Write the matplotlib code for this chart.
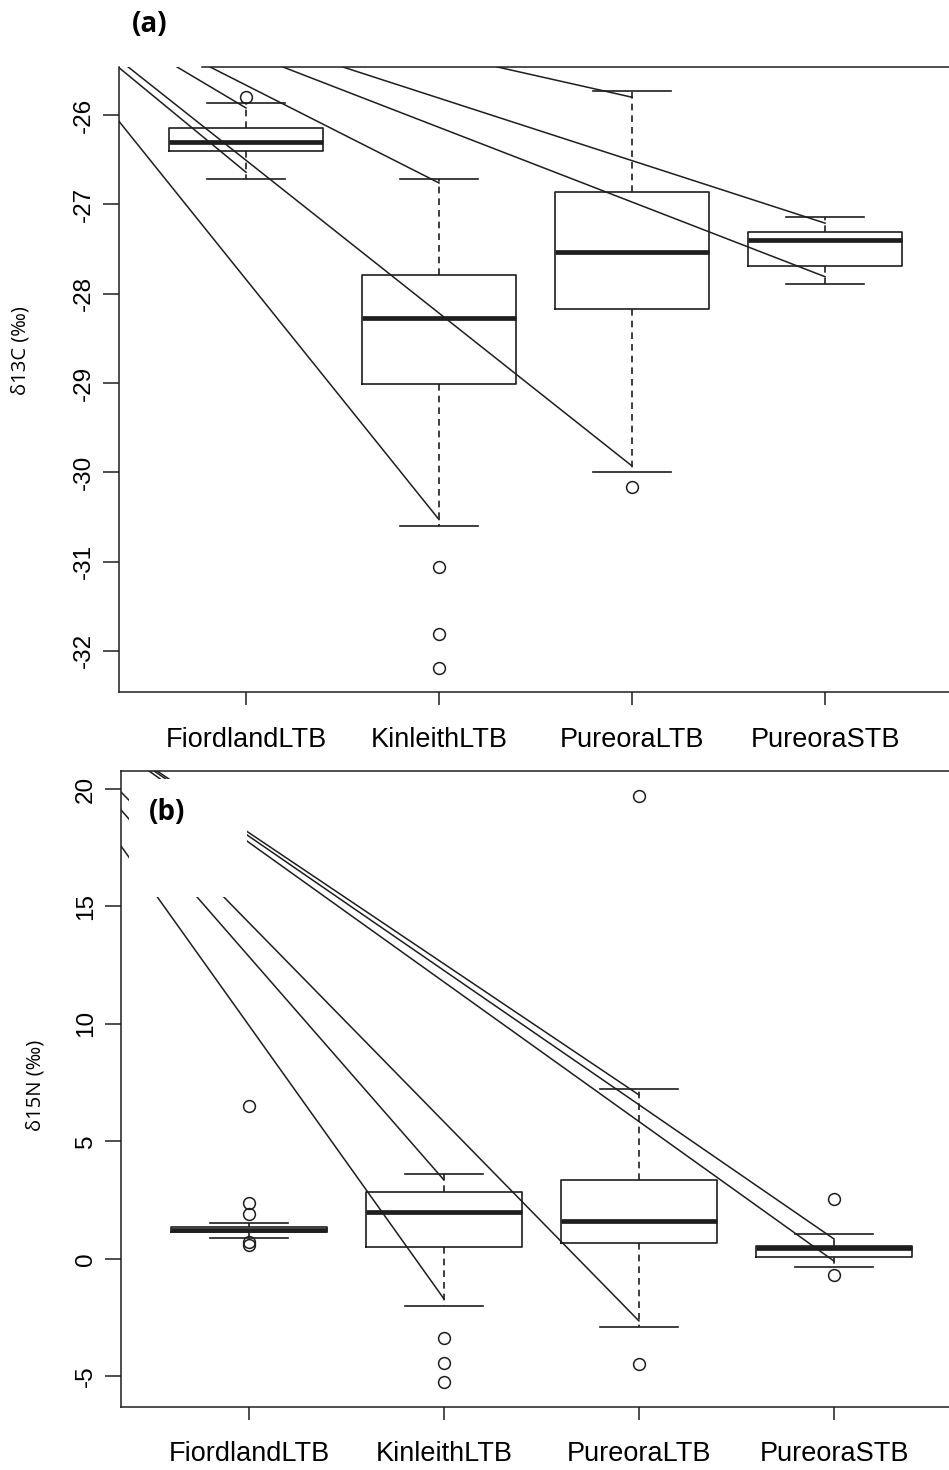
import numpy as np
import matplotlib
matplotlib.use('Agg')
import matplotlib.pyplot as plt
from matplotlib.patches import Rectangle

# sites on the x axis
sites = ['FiordlandLTB', 'KinleithLTB', 'PureoraLTB', 'PureoraSTB']

# (a) d13C box statistics
c_med = [-26.30, -28.27, -27.53, -27.40]
c_q1 = [-26.40, -29.01, -28.17, -27.69]
c_q3 = [-26.15, -27.79, -26.86, -27.31]
c_lo = [-26.71, -30.60, -30.00, -27.89]
c_hi = [-25.87, -26.71, -25.73, -27.14]
c_out = [[-25.80], [-31.06, -31.81, -32.19], [-30.17], []]
c_ticks = [-32, -31, -30, -29, -28, -27, -26]

# (a) leader lines: start and end points
c_x0 = [0.342, 0.337, 0.389, 0.642, 0.813, 1.19, 1.50, 2.30]
c_y0 = [-26.07, -25.46, -25.46, -25.46, -25.46, -25.46, -25.46, -25.46]
c_x1 = [2.0, 1.0, 3.0, 1.0, 2.0, 4.0, 4.0, 3.0]
c_y1 = [-30.53, -26.64, -29.93, -25.92, -26.76, -27.81, -27.21, -25.80]

# (b) d15N box statistics
n_med = [1.23, 2.00, 1.62, 0.47]
n_q1 = [1.15, 0.51, 0.68, 0.09]
n_q3 = [1.36, 2.85, 3.36, 0.55]
n_lo = [0.89, -2.00, -2.89, -0.34]
n_hi = [1.53, 3.62, 7.23, 1.06]
n_out = [[6.51, 2.38, 1.91, 0.72, 0.60], [-3.36, -4.43, -5.23],
         [19.70, -4.47], [2.55, -0.68]]
n_ticks = [-5, 0, 5, 10, 15, 20]

# (b) leader lines
n_x0 = [0.344, 0.344, 0.344, 0.528, 0.513, 0.487]
n_y0 = [17.57, 19.11, 19.87, 20.77, 20.77, 20.77]
n_x1 = [2.0, 2.0, 3.0, 3.0, 4.0, 4.0]
n_y1 = [-1.70, 3.36, -2.64, 6.98, 0.85, -0.09]

INK = '#1e1e1e'
TICKFONT = 'Liberation Sans'
LABFONT = ['Open Sans', 'DejaVu Sans']


def make_stats(med, q1, q3, lo, hi, out):
    stats = []
    for i in range(len(med)):
        stats.append(dict(med=med[i], q1=q1[i], q3=q3[i], whislo=lo[i],
                          whishi=hi[i], fliers=np.array(out[i])))
    return stats


def draw_panel(ax, stats, x0, y0, x1, y1, ticks, xlim, ylim, tick_pad):
    ax.bxp(stats, positions=range(1, len(stats) + 1), widths=0.8,
           capwidths=0.4, showfliers=True,
           boxprops=dict(color=INK, lw=1.2),
           whiskerprops=dict(color=INK, lw=1.2, linestyle=(0, (4, 3))),
           capprops=dict(color=INK, lw=1.2),
           medianprops=dict(color=INK, lw=3.4, solid_capstyle='butt'),
           flierprops=dict(marker='o', mfc='none', mec=INK, ms=8.5, mew=1.1))

    # leader lines
    for i in range(len(x0)):
        ax.plot([x0[i], x1[i]], [y0[i], y1[i]], color=INK, lw=1.1, zorder=2)

    ax.set_xlim(*xlim)
    ax.set_ylim(*ylim)
    ax.set_xticks(range(1, len(sites) + 1))
    ax.set_xticklabels(sites, fontsize=19.5, family=TICKFONT)
    ax.set_yticks(ticks)
    ax.set_yticklabels([str(t) for t in ticks], fontsize=17.5, family=TICKFONT,
                       rotation=90, va='center')
    ax.tick_params(axis='y', length=11.5, width=1.1, pad=6, color=INK)
    ax.tick_params(axis='x', length=9.5, width=1.1, pad=tick_pad, color=INK)
    ax.spines['right'].set_visible(False)
    for s in ['left', 'bottom', 'top']:
        ax.spines[s].set_linewidth(1.1)
        ax.spines[s].set_color(INK)


fig = plt.figure(figsize=(9.49, 14.70), dpi=100)

# panel (a)
ax1 = fig.add_axes([0.1254, 0.5293, 0.8746, 0.4252])
draw_panel(ax1, make_stats(c_med, c_q1, c_q3, c_lo, c_hi, c_out),
           c_x0, c_y0, c_x1, c_y1, c_ticks, (0.342, 4.642), (-32.46, -25.46), 16)
ax1.spines['top'].set_visible(False)
ax1.plot([0.772, 4.642], [-25.46, -25.46], color=INK, lw=1.1, clip_on=False)

# panel (b)
ax2 = fig.add_axes([0.1275, 0.0429, 0.8725, 0.4327])
draw_panel(ax2, make_stats(n_med, n_q1, n_q3, n_lo, n_hi, n_out),
           n_x0, n_y0, n_x1, n_y1, n_ticks, (0.344, 4.59), (-6.30, 20.77), 15)
# white label box hiding the leader lines behind "(b)"
ax2.add_patch(Rectangle((0.385, 15.40), 0.605, 5.03, facecolor='white',
                        edgecolor='none', zorder=4))

# panel letters and axis titles
fig.text(0.158, 0.983, '(a)', fontsize=20, fontweight='bold', family=LABFONT,
         ha='center', va='center')
fig.text(0.176, 0.4476, '(b)', fontsize=20, fontweight='bold', family=LABFONT,
         ha='center', va='center')
fig.text(0.022, 1 - 351 / 1470, 'δ13C (‰)', fontsize=14.5, family=LABFONT,
         rotation=90, ha='center', va='center')
fig.text(0.037, 1 - 1085 / 1470, 'δ15N (‰)', fontsize=14.5, family=LABFONT,
         rotation=90, ha='center', va='center')

plt.savefig('out.png', dpi=100)
plt.close()
